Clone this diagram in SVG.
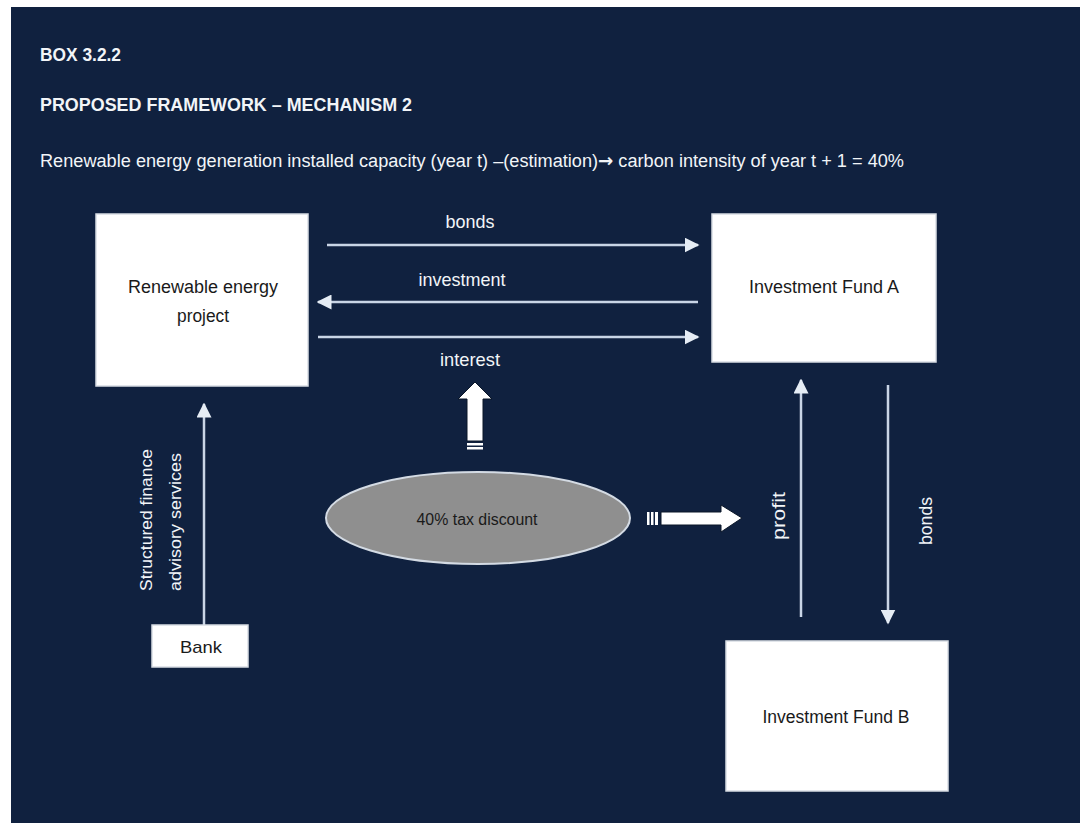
<svg xmlns="http://www.w3.org/2000/svg" width="1080" height="827" viewBox="0 0 1080 827">
<defs>
<style>
.t{font-family:"Liberation Sans",Arial,sans-serif;fill:#f2f5f8}
.b{font-weight:bold}
.dk{font-family:"Liberation Sans",Arial,sans-serif;fill:#1a1a1a}
.box{fill:#ffffff;stroke:#d8dde4;stroke-width:1.5}
.ln{stroke:#c9d5e6;stroke-width:2.5;fill:none}
.blk{fill:#ffffff;stroke:#0a1628;stroke-width:1}
</style>
<marker id="ah" viewBox="0 0 10 10" refX="9" refY="5" markerWidth="6" markerHeight="6" markerUnits="strokeWidth" orient="auto">
<path d="M0,0 L10,5 L0,10 z" fill="#e6edf5"/>
</marker>
</defs>
<rect x="0" y="0" width="1080" height="827" fill="#ffffff"/>
<rect x="11" y="7" width="1069" height="816" fill="#10213f"/>

<g id="header">
<text class="t b" x="40" y="61" font-size="18" textLength="81" lengthAdjust="spacingAndGlyphs">BOX 3.2.2</text>
<text class="t b" x="40" y="111" font-size="18" textLength="372" lengthAdjust="spacingAndGlyphs">PROPOSED FRAMEWORK – MECHANISM 2</text>
<text class="t" x="40" y="167" font-size="18" textLength="864" lengthAdjust="spacingAndGlyphs">Renewable energy generation installed capacity (year t) –(estimation)<tspan font-family="'DejaVu Sans',sans-serif" font-weight="bold">→</tspan> carbon intensity of year t + 1 = 40%</text>
</g>

<g id="connectors">
<line class="ln" x1="327" y1="245" x2="698" y2="245" marker-end="url(#ah)"/>
<line class="ln" x1="698" y1="302" x2="318" y2="302" marker-end="url(#ah)"/>
<line class="ln" x1="318" y1="337" x2="698" y2="337" marker-end="url(#ah)"/>
<line class="ln" x1="204" y1="627" x2="204" y2="404" marker-end="url(#ah)"/>
<line class="ln" x1="801" y1="617" x2="801" y2="380" marker-end="url(#ah)"/>
<line class="ln" x1="888" y1="385" x2="888" y2="623" marker-end="url(#ah)"/>
<text class="t" x="470" y="228" font-size="19" text-anchor="middle" textLength="49" lengthAdjust="spacingAndGlyphs">bonds</text>
<text class="t" x="462" y="286" font-size="19" text-anchor="middle" textLength="87" lengthAdjust="spacingAndGlyphs">investment</text>
<text class="t" x="470" y="366" font-size="19" text-anchor="middle" textLength="60" lengthAdjust="spacingAndGlyphs">interest</text>
<text class="t" font-size="18" text-anchor="middle" transform="translate(785,516) rotate(-90)" textLength="48" lengthAdjust="spacingAndGlyphs">profit</text>
<text class="t" font-size="18" text-anchor="middle" transform="translate(932,521) rotate(-90)" textLength="48" lengthAdjust="spacingAndGlyphs">bonds</text>
<text class="t" font-size="17" text-anchor="middle" transform="translate(152,520) rotate(-90)" textLength="142" lengthAdjust="spacingAndGlyphs">Structured finance</text>
<text class="t" font-size="17" text-anchor="middle" transform="translate(181,522) rotate(-90)" textLength="138" lengthAdjust="spacingAndGlyphs">advisory services</text>
<!-- block arrow up -->
<path class="blk" d="M475,382 L492,399 L483,399 L483,441 L467,441 L467,399 L458,399 Z"/>
<rect x="467" y="443" width="16" height="2.5" fill="#ffffff"/>
<rect x="467" y="447" width="16" height="2.5" fill="#ffffff"/>
<!-- block arrow right -->
<path class="blk" d="M742,518 L721,505 L721,512 L661,512 L661,525 L721,525 L721,532 Z"/>
<rect x="647" y="512" width="2.5" height="13" fill="#ffffff"/>
<rect x="651" y="512" width="2.5" height="13" fill="#ffffff"/>
<rect x="655" y="512" width="3" height="13" fill="#ffffff"/>
</g>

<g id="node-project">
<rect class="box" x="96" y="214" width="212" height="172"/>
<text class="dk" x="203" y="293" font-size="18" text-anchor="middle" textLength="150" lengthAdjust="spacingAndGlyphs">Renewable energy</text>
<text class="dk" x="203" y="322" font-size="18" text-anchor="middle" textLength="52" lengthAdjust="spacingAndGlyphs">project</text>
</g>

<g id="node-fundA">
<rect class="box" x="712" y="214" width="224" height="148"/>
<text class="dk" x="824" y="293" font-size="18" text-anchor="middle" textLength="150" lengthAdjust="spacingAndGlyphs">Investment Fund A</text>
</g>

<g id="node-fundB">
<rect class="box" x="726" y="641" width="222" height="150"/>
<text class="dk" x="836" y="723" font-size="18" text-anchor="middle" textLength="147" lengthAdjust="spacingAndGlyphs">Investment Fund B</text>
</g>

<g id="node-bank">
<rect class="box" x="152" y="625" width="96" height="42"/>
<text class="dk" x="201" y="653" font-size="17" text-anchor="middle" textLength="42" lengthAdjust="spacingAndGlyphs">Bank</text>
</g>

<g id="node-tax">
<ellipse cx="478" cy="518" rx="152" ry="46" fill="#8f8f8f" stroke="#d4dbe4" stroke-width="2"/>
<text class="dk" x="477" y="525" font-size="16" text-anchor="middle" textLength="121" lengthAdjust="spacingAndGlyphs">40% tax discount</text>
</g>
</svg>
